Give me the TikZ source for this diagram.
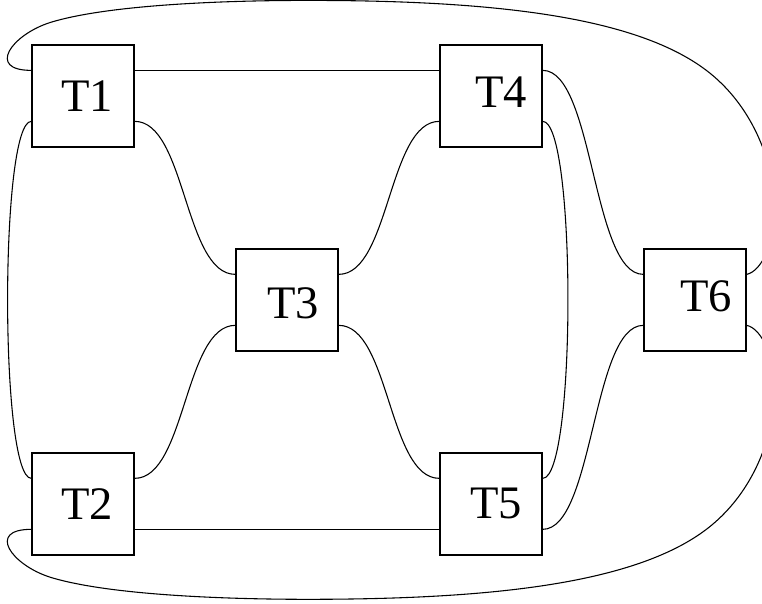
\documentclass[tikz,border=0pt]{standalone}
\usepackage{fontspec}
\setmainfont{Liberation Serif}
\usetikzlibrary{calc}

\tikzset{
	task/.style={draw, line width=0.4pt, minimum size=1cm, inner sep=0pt},
	link/.style={line width=0.3pt},
}

\begin{document}
\begin{tikzpicture}[font=\fontsize{13}{15}\selectfont]
		\path[use as bounding box, clip] (-0.814,0.94) rectangle (6.657,-4.98);
		\node[task, label={[xshift=0.4mm]center:T1}] (T1) at (0,0) {};
		\node[task, label={[xshift=0.4mm]center:T2}] (T2) at (0,-4) {};
		\node[task, label={[xshift=0.6mm, yshift=-0.3mm]center:T3}] (T3) at (2,-2) {};
		\node[task, label={[xshift=1mm, yshift=0.4mm]center:T4}] (T4) at (4,0) {};
		\node[task, label={[xshift=0.5mm]center:T5}] (T5) at (4,-4) {};
		\node[task, label={[xshift=1.1mm, yshift=0.3mm]center:T6}] (T6) at (6,-2) {};
		% straight links
		\draw[link] ([yshift=2.5mm]T1.east) -- ([yshift=2.5mm]T4.west);
		\draw[link] ([yshift=-2.5mm]T2.east) -- ([yshift=-2.5mm]T5.west);
		% s-shaped links
		\draw[link] ([yshift=-2.5mm]T1.east) .. controls +(0.5,0) and +(-0.5,0) .. ([yshift=2.5mm]T3.west);
		\draw[link] ([yshift=2.5mm]T2.east) .. controls +(0.5,0) and +(-0.5,0) .. ([yshift=-2.5mm]T3.west);
		\draw[link] ([yshift=2.5mm]T3.east) .. controls +(0.5,0) and +(-0.5,0) .. ([yshift=-2.5mm]T4.west);
		\draw[link] ([yshift=-2.5mm]T3.east) .. controls +(0.5,0) and +(-0.5,0) .. ([yshift=2.5mm]T5.west);
		\draw[link] ([yshift=2.5mm]T4.east) .. controls +(0.5,0) and +(-0.5,0) .. ([yshift=2.5mm]T6.west);
		\draw[link] ([yshift=-2.5mm]T5.east) .. controls +(0.5,0) and +(-0.5,0) .. ([yshift=-2.5mm]T6.west);
		% side links
		\draw[link] ([yshift=-2.5mm]T4.east) .. controls +(0.33,0) and +(0.33,0) .. ([yshift=2.5mm]T5.east);
		\draw[link] ([yshift=-2.5mm]T1.west) .. controls +(-0.31,0) and +(-0.31,0) .. ([yshift=2.5mm]T2.west);
		% outer loops
		\draw[link] ([yshift=2.5mm]T1.west) .. controls (-0.95,0.25) and (-0.70,0.60) .. (-0.32,0.72)
			.. controls (0.25,0.895) and (1.4,0.936) .. (2.2,0.936)
			.. controls (4.0,0.936) and (5.45,0.786) .. (6.15,0.22)
			.. controls (6.577,-0.126) and (6.78,-0.67) .. (6.78,-1.12)
			.. controls (6.78,-1.45) and (6.65,-1.72) .. ([yshift=2.5mm]T6.east);
		\draw[link] ([yshift=-2.5mm]T2.west) .. controls (-0.95,-4.25) and (-0.70,-4.60) .. (-0.32,-4.72)
			.. controls (0.25,-4.895) and (1.4,-4.936) .. (2.2,-4.936)
			.. controls (4.0,-4.936) and (5.45,-4.786) .. (6.15,-4.22)
			.. controls (6.577,-3.874) and (6.78,-3.33) .. (6.78,-2.88)
			.. controls (6.78,-2.55) and (6.65,-2.28) .. ([yshift=-2.5mm]T6.east);
	\end{tikzpicture}
\end{document}
